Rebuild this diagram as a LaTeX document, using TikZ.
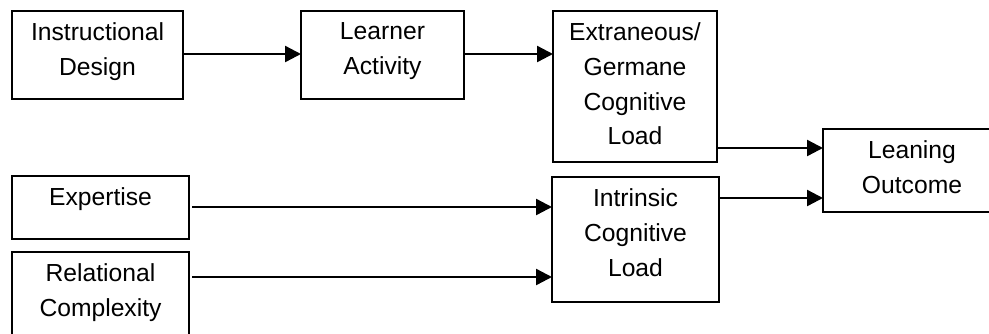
\documentclass[tikz,border=0pt]{standalone}
\usepackage{fontspec}
\setmainfont{Liberation Sans}
\usetikzlibrary{arrows.meta,calc}
\tikzset{
  box/.style={draw=black, line width=1.5pt, inner sep=0pt, outer sep=0pt},
  txt/.style={anchor=north, inner sep=0pt, outer sep=0pt, align=center, font=\fontsize{18.5}{26}\selectfont},
  arr/.style={line width=1.8pt, -{Triangle[length=12pt,width=12pt]}}
}
\begin{document}
\begin{tikzpicture}[x=0.75pt,y=-0.75pt]
\useasboundingbox (0,0) rectangle (989,333);
\clip (0,0) rectangle (989,333);
% boxes
\node[box, minimum width=128.25pt, minimum height=66pt] (id) at (97.5,55) {};
\node[box, minimum width=122.25pt, minimum height=66pt] (la) at (382.5,55) {};
\node[box, minimum width=123pt, minimum height=113.25pt] (ext) at (635,86.5) {};
\node[box, minimum width=132.75pt, minimum height=47.25pt] (exp) at (100.5,207.5) {};
\node[box, minimum width=132.75pt, minimum height=69.75pt] (rel) at (100.5,298.5) {};
\node[box, minimum width=125.25pt, minimum height=93.75pt] (int) at (635.5,239.5) {};
\node[box, minimum width=133.5pt, minimum height=62.25pt] (lo) at (912,170.5) {};
% texts
\node[txt] (idt) at ($(id.north)+(0,12)$) {Instructional\\Design};
\node[txt] (lat) at ($(la.north)+(0,12)$) {Learner\\Activity};
\node[txt] (extt) at ($(ext.north)+(0,12)$) {Extraneous/\\Germane\\Cognitive\\Load};
\node[txt] (expt) at ($(exp.north)+(0,12)$) {Expertise};
\node[txt] (relt) at ($(rel.north)+(0,12)$) {Relational\\Complexity};
\node[txt] (intt) at ($(int.north)+(0,12)$) {Intrinsic\\Cognitive\\Load};
\node[txt] (lot) at ($(lo.north)+(0,12)$) {Leaning\\Outcome};
% arrow end points
\coordinate (ida) at ($(id.east)+(0,-1)$);
\coordinate (lab) at ($(la.west)+(0,-1)$);
\coordinate (lac) at ($(la.east)+(0,-1)$);
\coordinate (lo1) at ($(lo.west)+(0,-22.5)$);
\coordinate (lo2) at ($(lo.west)+(0,27.5)$);
\coordinate (in1) at ($(int.west)+(0,-32.5)$);
\coordinate (in2) at ($(int.west)+(0,37.5)$);
\coordinate (ex1) at ($(exp.east |- in1)+(3,0)$);
\coordinate (re1) at ($(rel.east |- in2)+(3,0)$);
% connectors
\draw[arr] (ida) -- (lab);
\draw[arr] (lac) -- (lac -| ext.west);
\draw[arr] (ext.east |- lo1) -- (lo1);
\draw[arr] (int.east |- lo2) -- (lo2);
\draw[arr] (ex1) -- (in1);
\draw[arr] (re1) -- (in2);
\end{tikzpicture}
\end{document}
